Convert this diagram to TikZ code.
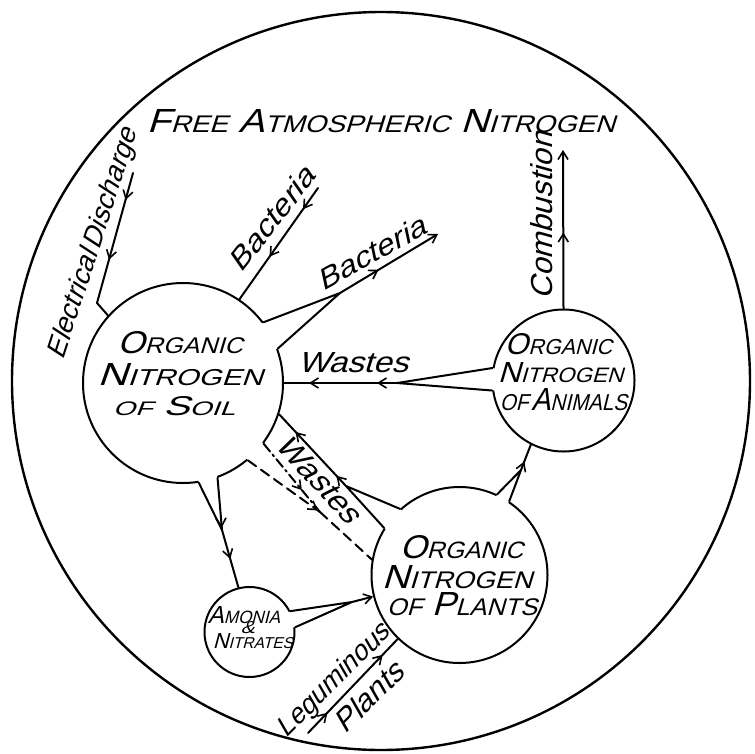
\documentclass[tikz,border=0pt]{standalone}
\usepackage{fontspec}
\usepackage{graphicx}
\newfontfamily\hand{Liberation Sans}[FakeSlant=0.27]
\usetikzlibrary{arrows.meta,decorations.markings,calc}
\makeatletter
\newcommand\SCap[2]{#1{\fontsize{\strip@pt\dimexpr\f@size pt*72/100\relax}{\z@}\selectfont #2}}
\makeatother
\newcommand\fit[3]{\raisebox{0pt}[\height][0pt]{\resizebox{#1pt}{#2pt}{\hand #3}}}
\newcommand\tailfill[4]{%
  \fill[white] (#1.#2) -- (#4) -- (#1.#3) -- ($(#1.center)!0.95!(#1.#3)$) -- ($(#1.center)!0.95!(#1.#2)$) -- cycle;}
\tikzset{
  ln/.style={line width=2pt, line cap=round, line join=round},
  circ/.style={draw, circle, line width=2pt, inner sep=0pt},
  txt/.style={inner sep=0pt, outer sep=0pt},
  ah/.style={postaction={decorate, decoration={markings,
      mark=at position #1 with {\arrow{Straight Barb[length=8pt,width=10pt,line width=1.6pt]}}}}},
  tipped/.style={-{Straight Barb[length=8pt,width=10pt,line width=1.6pt]}},
  dsh/.style={dash pattern=on 10pt off 6pt},
  dshdot/.style={dash pattern=on 10pt off 4pt on 2pt off 4pt},
}
\begin{document}
\begin{tikzpicture}[x=1pt, y=-1pt]
\useasboundingbox (0,0) rectangle (755,753);
% outer circle
\node[circ, line width=2.4pt, minimum size=738pt] (world) at (381,381) {};
% circles
\node[circ, minimum size=200pt] (soil) at (183,383) {};
\node[circ, minimum size=142pt] (animals) at (563.5,380.5) {};
\node[circ, minimum size=176pt] (plants) at (459.5,575) {};
\node[circ, minimum size=90pt] (amonia) at (249.5,632) {};
% junction / free-end coordinates
\coordinate (ed0) at (133,173);
\coordinate (ed1) at (97,303);
\coordinate (bi0) at (318,188);
\coordinate (bj) at (340,293);
\coordinate (bt) at (438,234);
\coordinate (wj) at (397,383);
\coordinate (pj) at (346,486);
\coordinate (dj) at (320,512);
\coordinate (aj) at (222,530);
\coordinate (nj) at (352,602);
\coordinate (ct) at (563,150);
\coordinate (paj) at (521,470);
\coordinate (lg) at (308,733);
% white fills under funnels
\tailfill{soil}{37}{20}{bj}
\tailfill{animals}{170}{188}{wj}
\tailfill{plants}{148}{132}{pj}
\tailfill{soil}{-37}{-50}{dj}
\tailfill{soil}{-81}{-70}{aj}
\tailfill{amonia}{27}{6}{nj}
\tailfill{plants}{65}{56}{paj}
% electrical discharge
\draw[ln, ah=28pt, ah=90pt] (ed0) -- (ed1) -- (soil.138);
% bacteria in
\draw[ln, ah=26pt, ah=84pt] (bi0) -- (soil.56);
% bacteria out
\draw[ln] (soil.37) -- (bj) -- (soil.20);
\draw[ln, ah=45pt, tipped] (bj) -- (bt);
% wastes from animals
\draw[ln] (animals.170) -- (wj) -- (animals.188);
\draw[ln, ah=20pt, ah=88pt] (wj) -- (soil.0);
% wastes from plants (solid)
\draw[ln] (plants.148) -- (pj) -- (plants.132);
\draw[ln, ah=14pt, ah=74pt] (pj) -- (soil.-18);
% dashed from soil to plants
\draw[ln, dshdot, ah=60pt] (soil.-37) -- (dj);
\draw[ln, dsh, ah=86pt] (soil.-50) -- (dj);
\draw[ln, dsh] (dj) -- (plants.170);
% soil to amonia
\draw[ln] (soil.-81) -- (aj);
\draw[ln, ah=50pt] (soil.-70) -- (aj);
\draw[ln, ah=30pt] (aj) -- (amonia.104);
% amonia to plants
\draw[ln] (amonia.27) -- (nj) -- (amonia.6);
\draw[ln, tipped] (nj) -- (plants.194);
% combustion
\draw[ln, ah=76pt, tipped] (animals.90) -- (ct);
% plants to animals
\draw[ln] (plants.65) -- (paj) -- (plants.56);
\draw[ln, ah=9pt] (paj) -- (animals.-117);
% leguminous plants
\draw[ln, ah=28pt, ah=108pt] (lg) -- (plants.226);
% texts
\node[txt, anchor=base] (tFree) at (381,132) {\fit{468}{23}{\SCap{F}{REE} \SCap{A}{TMOSPHERIC} \SCap{N}{ITROGEN}}};
\node[txt, rotate=72] (lElec) at (91,243) {\fit{240}{20}{Electrical\hspace{0.15em}Discharge}};
\node[txt, rotate=52] (lBacIn) at (271,219) {\fit{122}{21}{Bacteria}};
\node[txt, rotate=29] (lBacOut) at (371,253) {\fit{120}{21}{Bacteria}};
\node[txt, rotate=90] (lComb) at (541,216) {\fit{167}{22}{Combustion}};
\node[txt, anchor=base] (lWaste1) at (353,372) {\fit{110}{20}{Wastes}};
\node[txt, rotate=-47] (lWaste2) at (319,479) {\fit{108}{21}{Wastes}};
\node[txt, rotate=45] (lLeg) at (332,679) {\fit{148}{20}{Leguminous}};
\node[txt, rotate=45] (lPlants) at (368,697) {\fit{85}{22}{Plants}};
% soil text
\node[txt, anchor=base] (s1) at (180,353) {\fit{125}{22}{\SCap{O}{RGANIC}}};
\node[txt, anchor=base] (s2) at (180,385) {\fit{165}{22}{\SCap{N}{ITROGEN}}};
\node[txt, anchor=base] (s3) at (174,415) {\fit{122}{19}{\SCap{}{OF} \SCap{S}{OIL}}};
% animals text
\node[txt, anchor=base] (a1) at (558.5,354) {\fit{107}{21}{\SCap{O}{RGANIC}}};
\node[txt, anchor=base] (a2) at (560.5,382) {\fit{125}{20}{\SCap{N}{ITROGEN}}};
\node[txt, anchor=base] (a3) at (563.5,410) {\fit{127}{22}{\SCap{}{OF}\hspace{0.1em}\SCap{A}{NIMALS}}};
% plants text
\node[txt, anchor=base] (p1) at (461.5,558) {\fit{123}{23}{\SCap{O}{RGANIC}}};
\node[txt, anchor=base] (p2) at (457,588) {\fit{150}{23}{\SCap{N}{ITROGEN}}};
\node[txt, anchor=base] (p3) at (462,615) {\fit{150}{23}{\SCap{}{OF} \SCap{P}{LANTS}}};
% amonia text
\node[txt, anchor=base] (m1) at (244,623) {\fit{72}{17}{\SCap{A}{MONIA}}};
\node[txt, anchor=base] (m2) at (247.5,633) {\fit{14}{12}{\&}};
\node[txt, anchor=base] (m3) at (253,648) {\fit{80}{15}{\SCap{N}{ITRATES}}};
\end{tikzpicture}
\end{document}
